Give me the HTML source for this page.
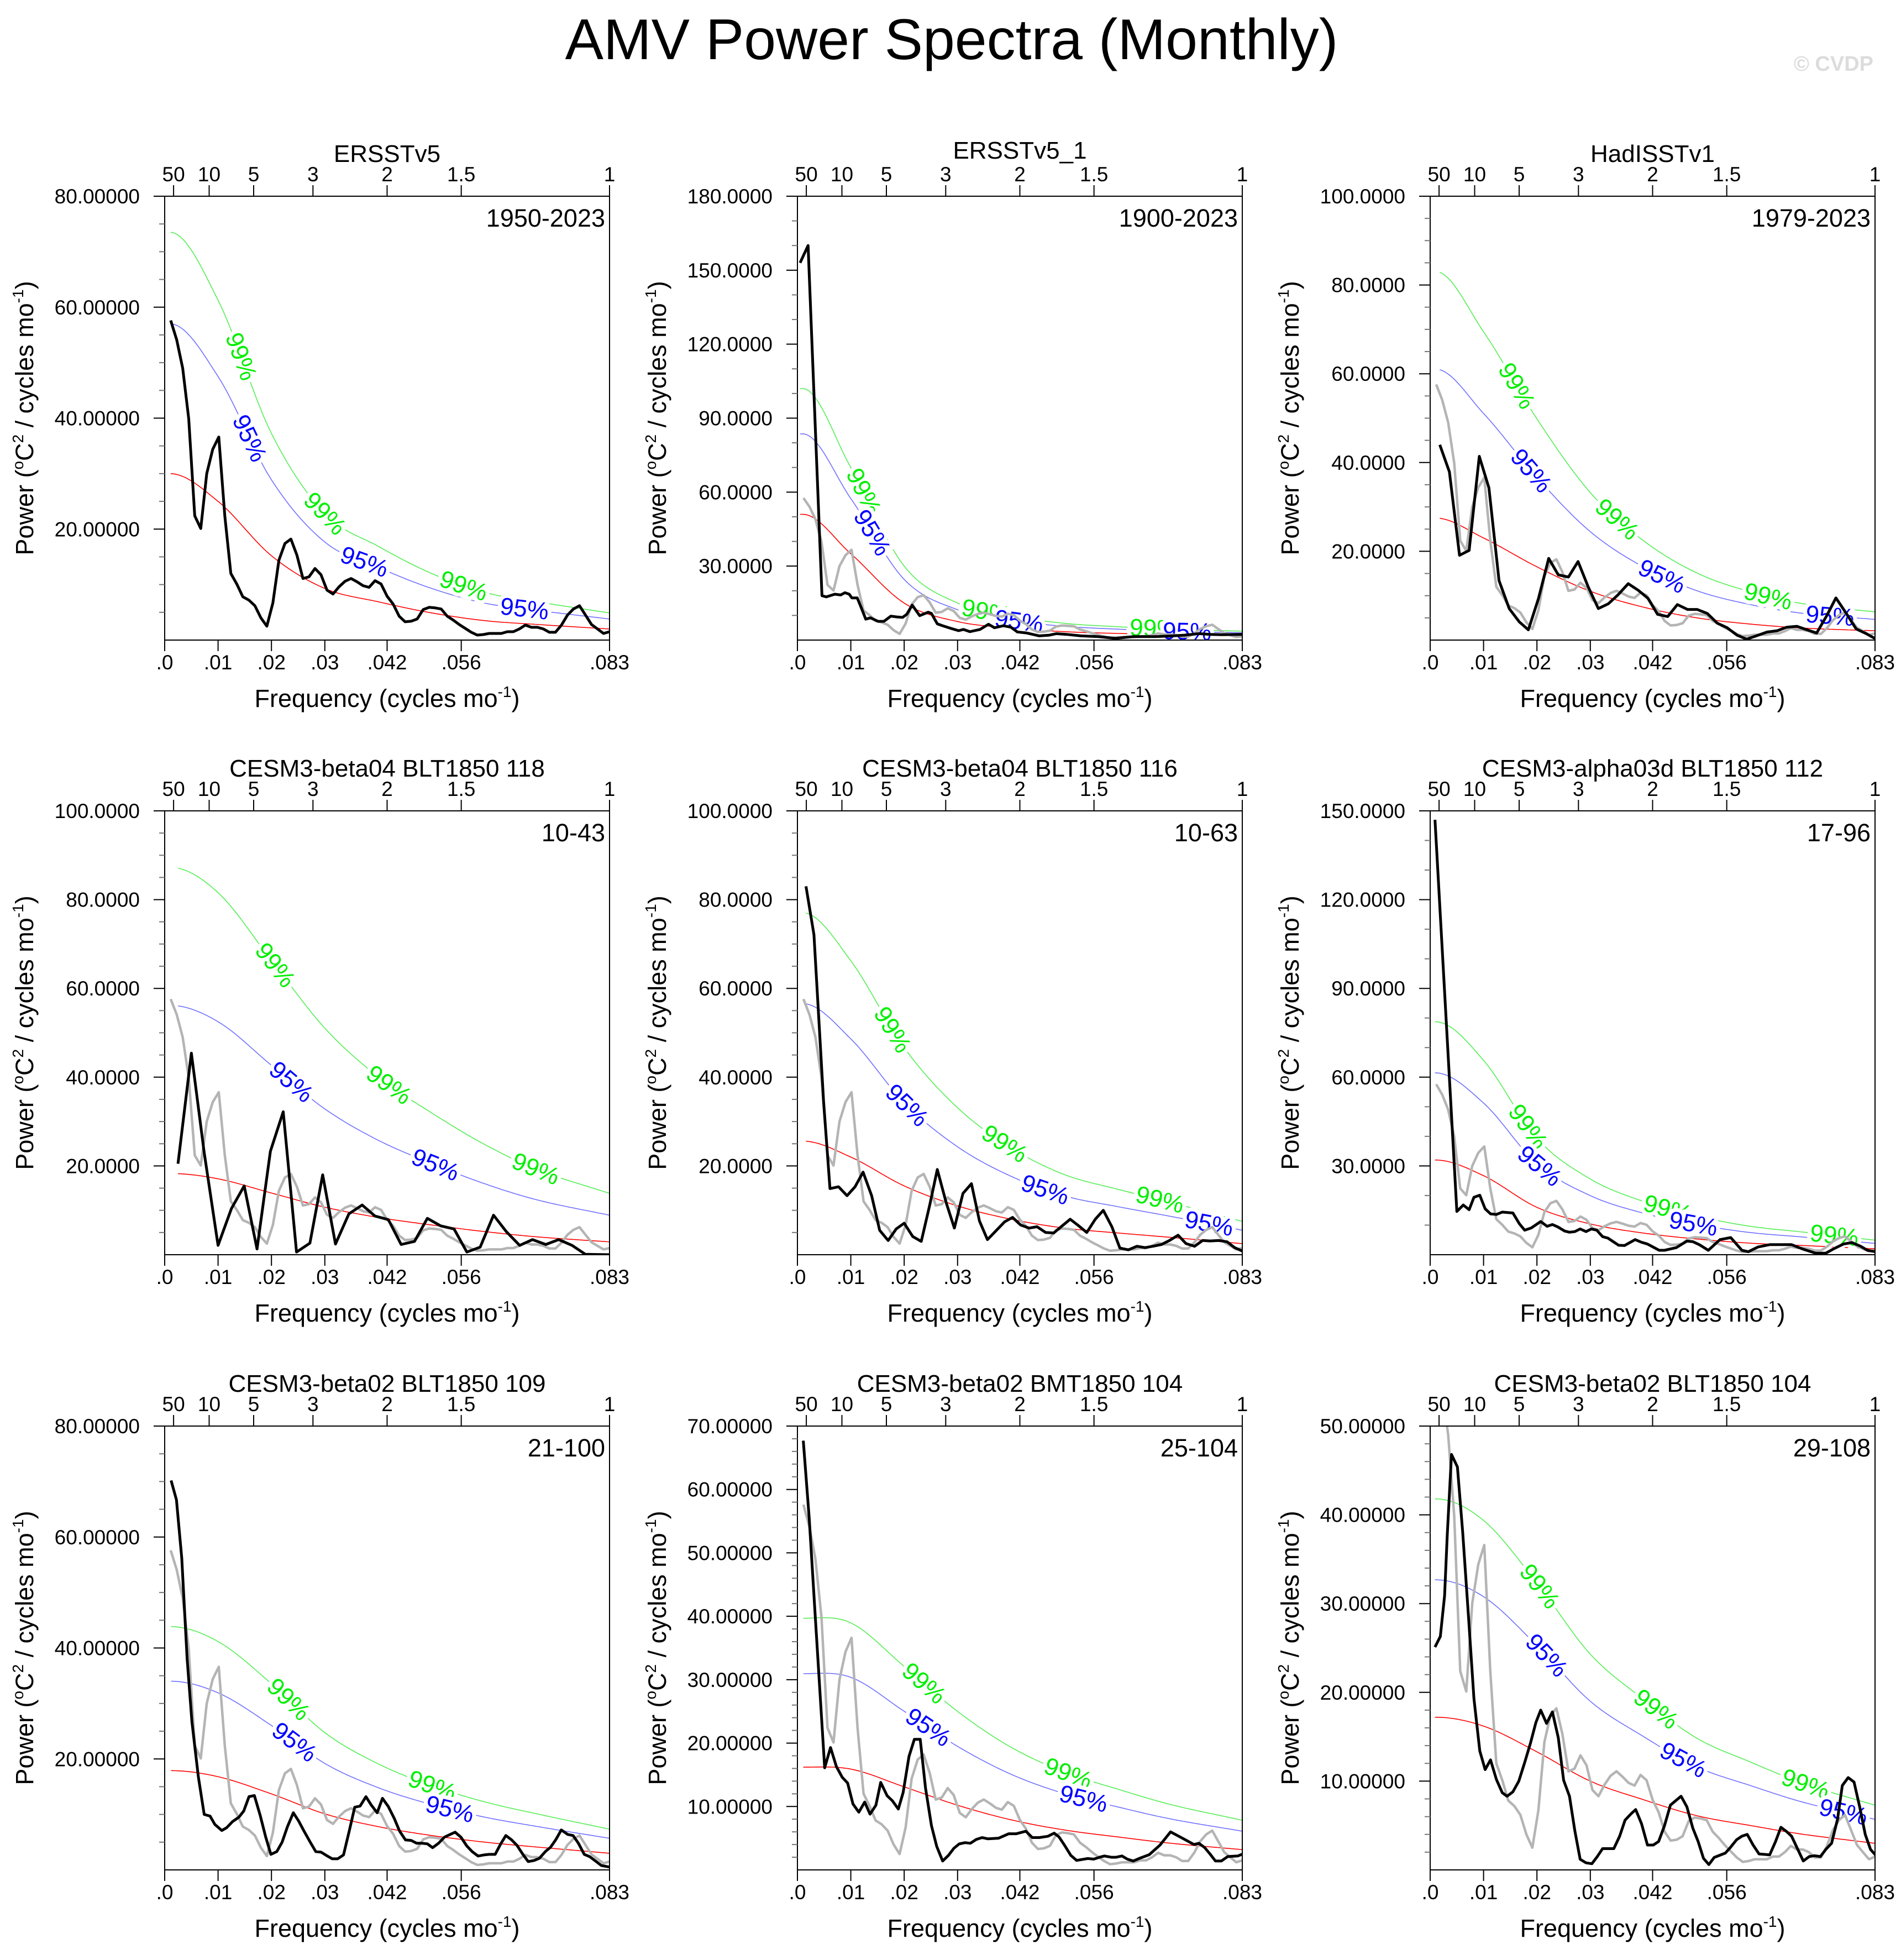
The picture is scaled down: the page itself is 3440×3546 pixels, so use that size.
<!DOCTYPE html>
<html><head><meta charset="utf-8"><title>AMV Power Spectra (Monthly)</title>
<style>
html,body{margin:0;padding:0;background:#fff;}
svg{display:block;font-family:"Liberation Sans",Arial,sans-serif;}
</style></head>
<body>
<svg id="fig" xmlns="http://www.w3.org/2000/svg" width="3440" height="3546" viewBox="0 0 3440 3546">
<rect width="3440" height="3546" fill="#fff"/>
<text x="1722" y="107" font-size="104" text-anchor="middle" fill="#000">AMV Power Spectra (Monthly)</text>
<text x="3390" y="128" font-size="38" font-weight="bold" text-anchor="end" fill="#dcdcdc">© CVDP</text>
</svg>
<script>
// ---- shared grid for significance curves (frequency, cycles/mo) ----
const sigFreq = [0.001,0.01,0.02,0.03,0.04,0.05,0.06,0.07,0.0833];
const topTickPeriods = ["50","10","5","3","2","1.5","1"];
const topTickFreqs = [1/600,1/120,1/60,1/36,1/24,1/18,1/12];
const bottomTickLabels = [".0",".01",".02",".03",".042",".056",".083"];
const bottomTickFreqs = [0,0.01,0.02,0.03,1/24,1/18,1/12];

// ---- ERSSTv5 (panel 1 black; gray reference in others) ----
const ersstPower = [57.6,54.1,49,39.9,22.4,20.1,30,34.4,36.6,22.4,12,10.1,7.8,7.2,6.2,4,2.5,6.7,14.4,17.4,18.2,15.3,11.1,11.4,12.9,11.8,9,8.3,9.6,10.6,11.1,10.5,9.8,9.5,10.7,10.1,7.9,6.5,4.3,3.3,3.4,3.8,5.5,5.9,5.8,5.6,4.3,3.6,2.8,2.1,1.4,0.9,1,1.2,1.2,1.2,1.5,1.5,2,2.7,2.3,2.3,2,1.4,1.4,2.7,4.5,5.6,6.2,4.5,2.8,2,1.2,1.5];
const ersstFreq = ersstPower.map((_, i) => (i + 1) / 888);

// ---- panel 2 ERSSTv5_1 ----
const p2Freq = [.0005,.002,.0046,.0054,.007,.0081,.0089,.0097,.0102,.0112,.0119,.0128,.0137,.0151,.0162,.0175,.0186,.0197,.0205,.0215,.0229,.0245,.0251,.0262,.0272,.0288,.0302,.0311,.0323,.0342,.0358,.0369,.0386,.04,.0412,.0429,.0453,.0472,.0485,.0504,.0531,.0563,.0596,.0628,.0671,.0703,.0725,.0752,.0774,.0795,.0833];
const p2Power = [153,160,18,17.5,18.6,18.3,19.2,18.6,17.1,17.1,13.4,8.5,9,7.6,7.6,9.7,9.4,9.2,10.5,14.2,9.9,11.3,10.8,6.6,5.8,4.7,3.8,4.3,3.4,4.3,6.4,5,5.8,5.2,3.3,2.9,1.7,2,2.6,2.3,1.7,1.4,0.7,1.4,1.4,1.7,2,2.6,2.3,2.2,2.3];

// ---- panel 3 HadISSTv1 ----
const p3Freq = [.0018,.0036,.0055,.0073,.0092,.011,.0129,.0148,.0167,.0184,.0203,.0222,.024,.0259,.0277,.0296,.0315,.0334,.0352,.0371,.039,.0408,.0426,.0445,.0463,.0482,.05,.0519,.0538,.0556,.0575,.0593,.0612,.0631,.065,.0668,.0687,.0706,.0724,.0743,.076,.0779,.0798,.0816,.0834];
const p3Power = [44,37.9,19.1,20.2,41.4,34.3,13.4,7.1,4.1,2.3,9.4,18.4,14.7,14.2,17.7,12,7.1,8.2,10.2,12.7,11.2,9.4,5.8,5.3,8,6.9,6.9,6,3.8,2.8,1.1,0.2,1,1.8,2.1,2.9,3.1,2.3,1.6,5.5,9.5,6.1,2.5,1.5,0.3];

// ---- panel 4 ----
const p4Freq = [.0025,.005,.0074,.01,.0125,.0149,.0173,.0198,.0222,.0247,.0272,.0296,.032,.0345,.037,.0394,.0419,.0443,.0468,.0492,.0517,.0542,.0566,.0591,.0616,.064,.0665,.0689,.0714,.0738,.0763,.0788,.0833];
const p4Power = [20.5,45.4,23,2.1,10.4,15.5,1.3,23.3,32.2,0.6,2.6,18,2.4,9.2,11.2,8.7,7.9,2.3,3,8.2,6.5,5.8,0.6,1.7,8.9,5.2,2.1,3.4,2.3,3.4,2.1,0.1,0];

// ---- panel 5 ----
const p5Freq = [.0016,.0031,.0049,.0061,.0077,.0093,.0108,.0123,.0139,.0154,.017,.0185,.02,.0216,.0232,.0248,.0262,.0279,.0294,.031,.0326,.0341,.0356,.0372,.0388,.0403,.0418,.0434,.0449,.0465,.048,.0496,.0511,.0527,.0542,.0558,.0573,.0589,.0604,.062,.0636,.0651,.0666,.0682,.0697,.0713,.0728,.0744,.0759,.0773,.079,.0805,.0819,.0834];
const p5Power = [83,72.1,34.6,14.9,15.3,13.3,15.3,18.6,13.3,5.5,3.2,5.8,7.1,4.1,3,11.3,19.2,11.6,6,13.8,16,7.6,3.4,5.4,7.4,8.4,6.7,6,6.3,5,4.9,6.5,8,6.5,5,8,10,6.3,1.5,1.1,1.9,1.6,1.9,2.3,3.2,4.4,2.5,1.9,3.2,3.1,3.2,2.9,1.6,0.8];

// ---- panel 6 ----
const p6Freq = [.0009,.005,.0062,.0073,.0082,.0093,.0103,.0113,.0124,.0135,.0155,.0167,.0177,.0189,.0207,.0219,.0229,.0239,.0252,.0261,.0271,.0281,.0292,.0302,.0312,.0323,.0333,.0353,.0364,.0384,.0396,.0407,.0429,.0439,.0461,.0481,.0492,.0504,.0521,.0543,.0563,.0584,.0596,.0614,.0636,.0657,.0677,.0698,.0722,.0741,.0755,.0774,.079,.0806,.0819,.0834];
const p6Power = [147,14.6,16.8,15.2,19.4,20.1,15.5,13.8,13.6,14.4,14.1,10.5,8.3,9,11.2,9.6,10.2,9.4,8,7.6,7.8,8.7,7.8,8.7,8.3,6.1,5.6,3.2,3.1,5.1,4.2,3.6,1.5,1.5,2.4,4.6,4.4,3.4,1.5,5.1,5.8,1.5,1,2.6,3.4,3.4,3.4,1.9,0.5,0.5,1.9,3.6,4.1,2.9,1.5,1];

// ---- panel 7 ----
const p7Freq = [.0012,.0022,.0032,.0042,.0051,.0063,.0074,.0085,.0094,.0107,.0116,.0127,.0139,.0148,.0158,.0168,.0179,.0189,.0199,.021,.022,.023,.0241,.0251,.0261,.0272,.0283,.0293,.0303,.0314,.0324,.0335,.0346,.0356,.0366,.0377,.0387,.0398,.0408,.0419,.043,.044,.0451,.0462,.0472,.0482,.0492,.0502,.0513,.0524,.0535,.0544,.0555,.0566,.0576,.0587,.0598,.0608,.0619,.0629,.0639,.065,.066,.0671,.0681,.0692,.0702,.0713,.0723,.0733,.0743,.0755,.0765,.0775,.0786,.0796,.0807,.0818,.0834];
const p7Power = [70.2,66.7,56.2,38.1,26.7,16.8,10,9.7,8.2,7.1,7.6,8.7,9.5,10.6,13.2,13.4,9.8,6,2.8,3.3,5,7.8,10.3,8.8,7,5.1,3.3,3.2,2.6,2,2,2.7,7.1,11.3,11.5,13.2,11.7,10.3,12.9,11.4,9.3,7,5.4,5.3,4.8,4.8,4.7,4,4.8,5.9,6.4,6.8,5.9,4.3,3.3,2.5,2.7,2.8,2.8,4.6,6.2,5.4,4.4,2.8,1.5,1.7,2.1,3.3,4.1,5.5,7.2,6.4,6.2,4.8,2.8,2.4,1.6,0.8,0.5];

// ---- panel 8 ----
const p8Freq = [.0011,.0022,.0032,.0042,.0051,.0062,.0073,.0084,.0094,.0104,.0115,.0126,.0136,.0147,.0156,.0168,.0178,.0189,.0198,.0209,.0219,.023,.024,.0251,.0261,.0272,.0283,.0293,.0303,.0314,.0324,.0335,.0346,.0357,.0377,.0396,.041,.0428,.044,.0453,.0469,.0481,.049,.0501,.0512,.0523,.0544,.0555,.0566,.0575,.0588,.0597,.0608,.0618,.0629,.064,.0659,.0679,.0699,.0721,.0743,.0752,.0763,.0773,.0783,.0794,.0806,.0825,.0834];
const p8Power = [67.7,55.5,41.9,28.3,16.1,19.3,16.3,14.6,13.7,10.4,9.1,10.7,8.8,10.2,13.8,11.7,10.9,9.6,12.2,17.9,20.6,20.6,12.9,7,3.7,1.4,2.3,3.4,4.1,4.3,4.2,4.8,5.1,4.9,5,5.7,5.7,6.1,5.1,5.1,5.3,5.8,5.2,3.8,2.3,1.5,1.8,1.7,2,2.2,2,2,2.2,1.7,1.4,1.8,2.4,3.9,6,5,4,4.2,3.5,2.5,1.4,1.4,2.1,2.2,2.5];

// ---- panel 9 ----
const p9Freq = [.0009,.0019,.0027,.0032,.004,.0051,.0061,.0072,.0082,.0093,.0103,.0113,.0124,.0135,.0144,.0155,.0166,.0177,.0188,.0198,.0207,.0218,.0229,.024,.025,.0261,.0271,.0281,.0292,.0303,.0313,.0323,.0344,.0355,.0365,.0376,.0385,.0396,.0407,.0418,.0428,.0439,.045,.047,.0481,.0492,.0502,.0512,.0522,.0532,.0553,.0562,.0574,.0584,.0594,.0605,.0616,.0636,.0647,.0657,.0668,.0677,.0688,.0699,.071,.072,.0731,.0741,.0752,.0763,.0772,.0783,.0794,.0805,.0815,.0825,.0834];
const p9Power = [25.1,26.3,30.9,37.7,46.8,45.4,38,28.3,19.3,13.4,11.3,12.4,10.2,8.7,8.3,8.8,10,12.1,14.3,16.6,18,16.5,17.8,14.9,10.1,8.3,4.4,1.2,0.8,0.7,1.5,2.4,2.4,3.8,5.6,6.3,6.8,5.2,2.8,2.8,3.2,5,7.3,8.3,7.1,4.7,3.2,1.3,0.6,1.4,1.9,2.5,3.4,3.8,4,2.8,1.8,1.7,3.2,4.8,4.3,3.8,2.4,1,1.5,1.6,1.5,2.3,3,5.7,9.5,10.4,9.9,7,4,2.3,1.7];

// ---- red-noise curves on sigFreq grid ----
const p1Red = [30,25,15.2,9.3,6.9,4.9,3.5,2.8,2.0];
const p2Red = [51,35,15,7.5,4.9,3.4,2.7,2.2,1.8];
const p3Red = [27.5,23,16.5,11,7.4,5,3.6,2.7,2.1];
const p4Red = [18.3,17.1,13.9,10.7,8.4,6.7,5.2,4.0,2.9];
const p5Red = [25.6,22,15.5,11,8,6,4.9,3.9,2.5];
const p6Red = [32,26.7,16,10.4,7.3,5.3,3.9,3.1,2.0];
const p7Red = [17.9,16.8,13.7,10.1,7.8,6.2,5.0,4.1,3.0];
const p8Red = [16.2,15.9,13.1,10.2,7.9,6.3,5.2,4.2,3.2];
const p9Red = [17.2,16.2,13.3,10,7.9,6.1,5.0,4.0,3.0];
// 95% / 99% multipliers of red noise
const sig95Factor = [1.9,1.64,2.22,3.07,2.21,1.92,1.9,1.91,1.9];
const sig99Factor = [2.45,2.0,3.02,4.77,3.01,2.46,2.45,2.45,2.43];
// label positions along curves (frequency)
const lab99Freqs = [[.0143,.030,.056],[.0124,.0353,.0668],[.0162,.035,.0633],[.0207,.042,.0695],[.0178,.0388,.0679],[.0183,.0445,.0757],[.0232,.0501],[.0237,.0507],[.0205,.0423,.0703]];
const lab95Freqs = [[.0159,.0374,.0674],[.014,.0415,.073],[.0189,.0434,.0749],[.0237,.0507],[.0205,.0464,.0771],[.0205,.0493],[.0243,.0534],[.0245,.0536],[.0218,.0474,.0774]];

const titles = ["ERSSTv5","ERSSTv5_1","HadISSTv1","CESM3-beta04 BLT1850 118","CESM3-beta04 BLT1850 116","CESM3-alpha03d BLT1850 112","CESM3-beta02 BLT1850 109","CESM3-beta02 BMT1850 104","CESM3-beta02 BLT1850 104"];
const yearRanges = ["1950-2023","1900-2023","1979-2023","10-43","10-63","17-96","21-100","25-104","29-108"];
const yMax = [80,180,100,100,100,150,80,70,50];
const yMajor = [20,30,20,20,20,30,20,10,10];
const yMinor = [5,10,5,5,5,10,5,2,2];
const yDecimals = [5,4,4,4,4,4,5,5,5];

const blackFreqs = [ersstFreq,p2Freq,p3Freq,p4Freq,p5Freq,p6Freq,p7Freq,p8Freq,p9Freq];
const blackPowers = [ersstPower,p2Power,p3Power,p4Power,p5Power,p6Power,p7Power,p8Power,p9Power];
const redCurves = [p1Red,p2Red,p3Red,p4Red,p5Red,p6Red,p7Red,p8Red,p9Red];

const NS = "http://www.w3.org/2000/svg";
const svg = document.getElementById("fig");
const colLeft = [298,1443,2588], rowTop = [355,1467,2580];
const PW = 805, PH = 803, FMAX = 1/12;

function mk(tag, attrs, parent) {
  const e = document.createElementNS(NS, tag);
  for (const k in attrs) e.setAttribute(k, attrs[k]);
  (parent || svg).appendChild(e);
  return e;
}
// smooth cubic Hermite interpolation on sigFreq grid (flat start)
function interp(vals, f) {
  const g = sigFreq, n = g.length;
  if (f <= g[0]) return vals[0];
  if (f >= g[n-1]) return vals[n-1];
  let i = 0; while (i < n-2 && f > g[i+1]) i++;
  const sl = k => {
    if (k === 0) return 0;
    if (k === n-1) return (vals[n-1]-vals[n-2])/(g[n-1]-g[n-2]);
    return (vals[k+1]-vals[k-1])/(g[k+1]-g[k-1]);
  };
  const h = g[i+1]-g[i], t = (f-g[i])/h;
  const h00 = 2*t*t*t-3*t*t+1, h10 = t*t*t-2*t*t+t, h01 = -2*t*t*t+3*t*t, h11 = t*t*t-t*t;
  return h00*vals[i] + h10*h*sl(i) + h01*vals[i+1] + h11*h*sl(i+1);
}

for (let p = 0; p < 9; p++) {
  const L = colLeft[p % 3], T = rowTop[Math.floor(p / 3)];
  const xs = f => L + f / FMAX * PW;
  const ys = v => T + PH - v / yMax[p] * PH;
  const g = mk("g", {});
  
  
  const cp = mk("clipPath", {id: "clip" + p}, g);
  mk("rect", {x: L, y: T, width: PW, height: PH}, cp);
  const plot = mk("g", {"clip-path": "url(#clip" + p + ")"}, g);

  const red = redCurves[p];
  const startF = blackFreqs[p][0];
  const curveDefs = [["red-noise-curve", 1, "#ff0000"], ["sig95-curve", sig95Factor[p], "#7070ff"], ["sig99-curve", sig99Factor[p], "#55ee55"]];
  curveDefs.forEach(cd => {
    let d = "";
    for (let k = 0; k <= 200; k++) {
      const f = startF + (FMAX - startF) * k / 200;
      d += (k ? "L" : "M") + xs(f).toFixed(1) + "," + ys(interp(red, f) * cd[1]).toFixed(1);
    }
    const c = mk("path", {d: d, fill: "none", stroke: cd[2], "stroke-width": 1.6}, plot);
    
    
  });

  // significance labels (white halo makes gap in curve)
  const addLabels = (freqs, fac, txt, col, nm) => {
    freqs.forEach(f => {
      const x0 = xs(f), y0 = ys(interp(red, f) * fac);
      const x1 = xs(f - 0.0008), y1 = ys(interp(red, f - 0.0008) * fac);
      const x2 = xs(f + 0.0008), y2 = ys(interp(red, f + 0.0008) * fac);
      const ang = Math.atan2(y2 - y1, x2 - x1) * 180 / Math.PI;
      const t = mk("text", {x: x0, y: y0, "font-size": 44, fill: col, stroke: "#fff", "stroke-width": 14, "paint-order": "stroke", "text-anchor": "middle", "dominant-baseline": "central", transform: "rotate(" + ang.toFixed(1) + " " + x0.toFixed(1) + " " + y0.toFixed(1) + ")"}, plot);
      t.textContent = txt;
      
      
    });
  };
  addLabels(lab99Freqs[p], sig99Factor[p], "99%", "#00ee00", "sig99-label");
  addLabels(lab95Freqs[p], sig95Factor[p], "95%", "#0000ff", "sig95-label");

  // gray ERSSTv5 reference
  if (p > 0) {
    const d = ersstFreq.map((f, i) => (i ? "L" : "M") + xs(f).toFixed(1) + "," + ys(ersstPower[i]).toFixed(1)).join("");
    const gl = mk("path", {d: d, fill: "none", stroke: "#b4b4b4", "stroke-width": 4.5, "stroke-linejoin": "round"}, plot);
    
    
  }
  // black spectrum
  const bf = blackFreqs[p], bp = blackPowers[p];
  const nb = Math.min(bf.length, bp.length);
  let bd = "";
  for (let i = 0; i < nb; i++) bd += (i ? "L" : "M") + xs(bf[i]).toFixed(1) + "," + ys(bp[i]).toFixed(1);
  const bl = mk("path", {d: bd, fill: "none", stroke: "#000", "stroke-width": 5, "stroke-linejoin": "round"}, plot);
  
  

  // frame
  const fr = mk("rect", {x: L, y: T, width: PW, height: PH, fill: "none", stroke: "#000", "stroke-width": 2}, g);
  
  

  // y ticks
  for (let v = yMinor[p]; v <= yMax[p] + 1e-9; v += yMinor[p]) {
    const major = Math.abs(v / yMajor[p] - Math.round(v / yMajor[p])) < 1e-6;
    mk("line", {x1: L - (major ? 20 : 10), x2: L, y1: ys(v), y2: ys(v), stroke: major ? "#000" : "#777", "stroke-width": 2}, g);
    if (major) {
      const t = mk("text", {x: L - 45, y: ys(v) + 13, "font-size": 37, "text-anchor": "end"}, g);
      t.textContent = v.toFixed(yDecimals[p]);
      
      
    }
  }
  // bottom ticks
  bottomTickFreqs.forEach((f, i) => {
    mk("line", {x1: xs(f), x2: xs(f), y1: T + PH, y2: T + PH + 20, stroke: "#000", "stroke-width": 2}, g);
    const t = mk("text", {x: xs(f), y: T + PH + 53, "font-size": 37, "text-anchor": "middle"}, g);
    t.textContent = bottomTickLabels[i];
    
    
  });
  // top ticks (period in years)
  topTickFreqs.forEach((f, i) => {
    mk("line", {x1: xs(f), x2: xs(f), y1: T, y2: T - 20, stroke: "#000", "stroke-width": 2}, g);
    const t = mk("text", {x: xs(f), y: T - 27, "font-size": 37, "text-anchor": "middle"}, g);
    t.textContent = topTickPeriods[i];
    
    
  });
  // panel title
  const tt = mk("text", {x: L + PW / 2, y: T - (p === 1 ? 68 : 62), "font-size": 44, "text-anchor": "middle"}, g);
  tt.textContent = titles[p];
  
  
  // year range
  const yr = mk("text", {x: L + PW - 8, y: T + 55, "font-size": 45, "text-anchor": "end"}, g);
  yr.textContent = yearRanges[p];
  
  
  // x axis title
  const xt = mk("text", {x: L + PW / 2, y: T + PH + 121, "font-size": 45, "text-anchor": "middle"}, g);
  xt.innerHTML = 'Frequency (cycles mo<tspan dy="-18" font-size="28">-1</tspan><tspan dy="18">)</tspan>';
  
  
  // y axis title
  const cy = T + PH / 2, cx = 60;
  const yt = mk("text", {x: cx + (L - 298), y: cy, "font-size": 45, "text-anchor": "middle", transform: "rotate(-90 " + (cx + L - 298) + " " + cy + ")"}, g);
  yt.innerHTML = 'Power (<tspan dy="-18" font-size="28">o</tspan><tspan dy="18">C</tspan><tspan dy="-18" font-size="28">2</tspan><tspan dy="18"> / cycles mo</tspan><tspan dy="-18" font-size="28">-1</tspan><tspan dy="18">)</tspan>';
  
  
}
</script>
</body></html>
